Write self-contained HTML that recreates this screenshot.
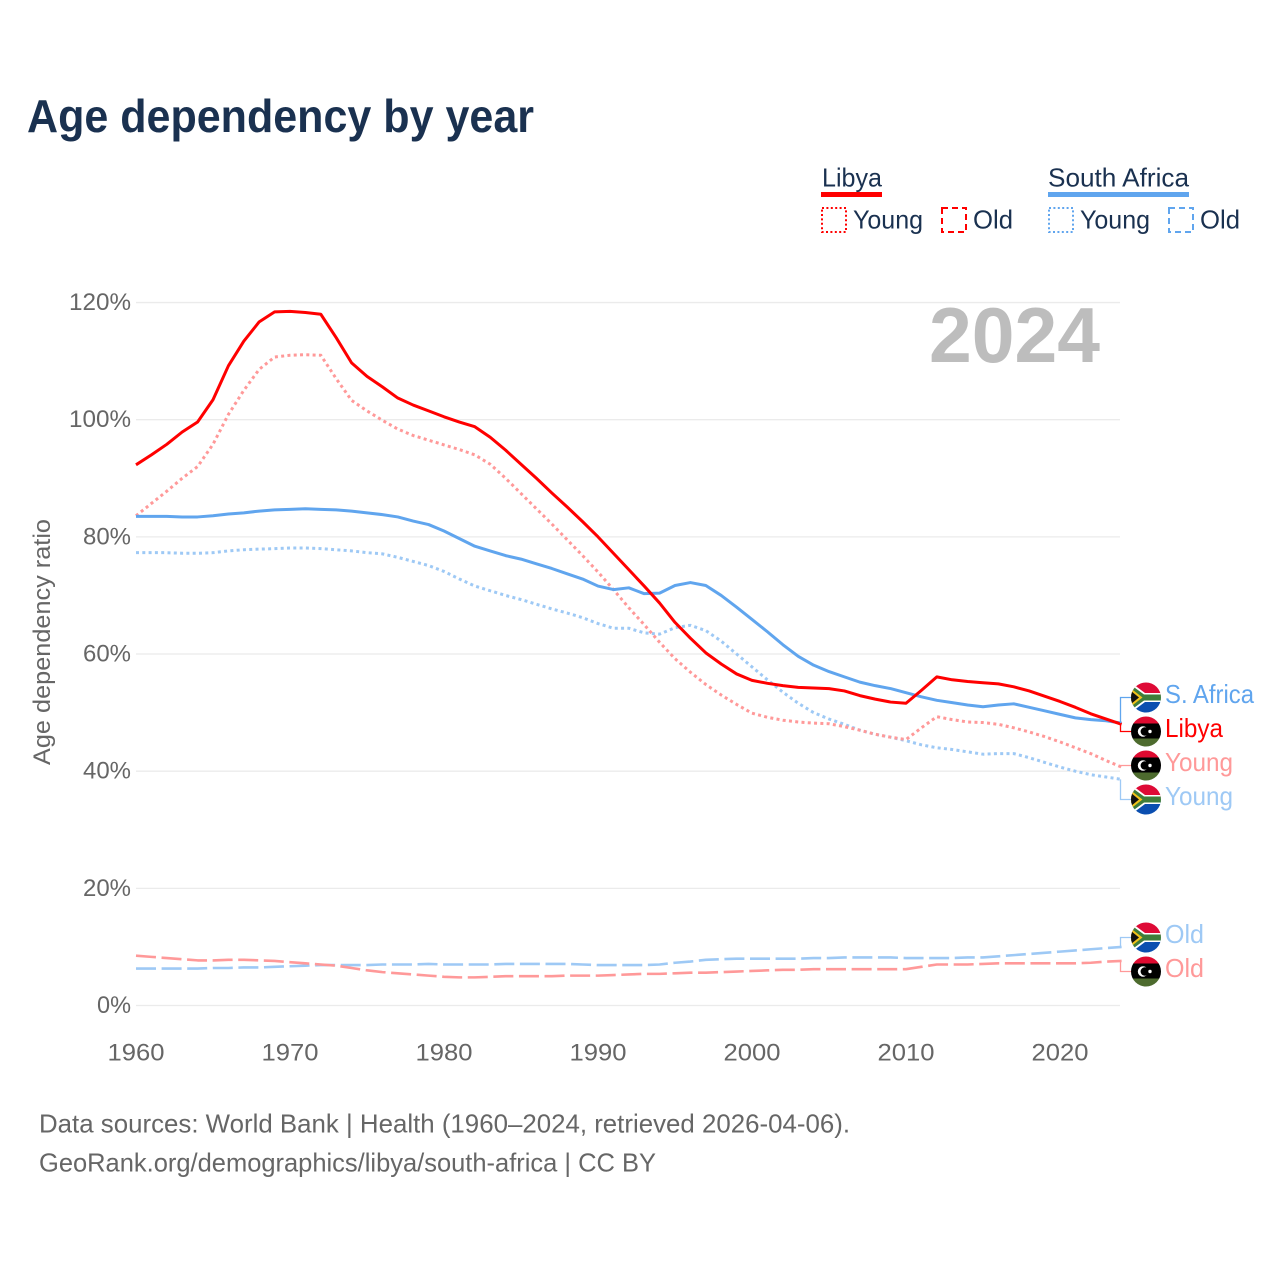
<!DOCTYPE html>
<html lang="en">
<head>
<meta charset="utf-8">
<title>Age dependency by year</title>
<style>
html,body{margin:0;padding:0;background:#fff;}
svg{display:block;font-family:"Liberation Sans",Arial,sans-serif;}
</style>
</head>
<body>
<svg id="chart" xmlns="http://www.w3.org/2000/svg" width="1280" height="1280" viewBox="0 0 1280 1280">
  <defs>
    <clipPath id="flag-clip"><circle cx="15" cy="15" r="15"/></clipPath>
    <g id="flag-sa" clip-path="url(#flag-clip)">
      <rect x="0" y="0" width="30" height="15" fill="#de0a36"/>
      <rect x="0" y="15" width="30" height="15" fill="#0a4eb0"/>
      <path d="M0 0 L14 10.5 H30 V19.5 H14 L0 30 Z" fill="#fff"/>
      <path d="M0 2.5 L13 12 H30 V18 H13 L0 27.5 Z" fill="#3f7d3a"/>
      <path d="M0 6 L11.5 15 L0 24 Z" fill="#f2c21b"/>
      <path d="M0 8.5 L8 15 L0 21.5 Z" fill="#111"/>
    </g>
    <g id="flag-ly" clip-path="url(#flag-clip)">
      <rect x="0" y="0" width="30" height="8" fill="#de0a30"/>
      <rect x="0" y="7" width="30" height="15.5" fill="#000"/>
      <rect x="0" y="22" width="30" height="8" fill="#4d6b2e"/>
      <circle cx="12" cy="15" r="5.2" fill="#fff"/>
      <circle cx="13.8" cy="15" r="4.2" fill="#000"/>
      <circle cx="19" cy="15" r="1.7" fill="#fff"/>
    </g>
  </defs>

  <text x="27" y="132" font-size="46" font-weight="700" fill="#1a3150" textLength="507" lengthAdjust="spacingAndGlyphs">Age dependency by year</text>

  <g font-size="26" fill="#1a3150">
    <text x="822" y="186.5" textLength="60" lengthAdjust="spacingAndGlyphs">Libya</text>
    <rect x="821" y="192" width="61" height="5" fill="#ff0000"/>
    <rect x="822" y="208" width="24" height="24" fill="none" stroke="#ff0000" stroke-width="2" stroke-dasharray="2 2.4"/>
    <text x="853" y="228.5" textLength="70" lengthAdjust="spacingAndGlyphs">Young</text>
    <rect x="942" y="208" width="24" height="24" fill="none" stroke="#ff0000" stroke-width="2" stroke-dasharray="6 4"/>
    <text x="973" y="228.5" textLength="40" lengthAdjust="spacingAndGlyphs">Old</text>
    <text x="1048" y="186.5" textLength="141" lengthAdjust="spacingAndGlyphs">South Africa</text>
    <rect x="1048" y="192" width="141" height="5" fill="#60a5ee"/>
    <rect x="1049" y="208" width="24" height="24" fill="none" stroke="#60a5ee" stroke-width="2" stroke-dasharray="2 2.4"/>
    <text x="1080" y="228.5" textLength="70" lengthAdjust="spacingAndGlyphs">Young</text>
    <rect x="1169" y="208" width="24" height="24" fill="none" stroke="#60a5ee" stroke-width="2" stroke-dasharray="6 4"/>
    <text x="1200" y="228.5" textLength="40" lengthAdjust="spacingAndGlyphs">Old</text>
  </g>

  <g id="grid"></g>
  <g id="y-ticks"></g>
  <g id="x-ticks"></g>

  <text transform="translate(50,642) rotate(-90)" text-anchor="middle" font-size="24" fill="#666" textLength="246" lengthAdjust="spacingAndGlyphs">Age dependency ratio</text>

  <text x="1100" y="362" text-anchor="end" font-size="78" font-weight="700" fill="#bdbdbd" textLength="171" lengthAdjust="spacingAndGlyphs">2024</text>

  <g id="series"></g>
  <g id="end-labels"></g>

  <text x="39" y="1132.5" font-size="26" fill="#666" textLength="811" lengthAdjust="spacingAndGlyphs">Data sources: World Bank | Health (1960–2024, retrieved 2026-04-06).</text>
  <text x="39" y="1171.5" font-size="26" fill="#666" textLength="617" lengthAdjust="spacingAndGlyphs">GeoRank.org/demographics/libya/south-africa | CC BY</text>
</svg>

<script>
const years = [1960,1961,1962,1963,1964,1965,1966,1967,1968,1969,1970,1971,1972,1973,1974,1975,1976,1977,1978,1979,1980,1981,1982,1983,1984,1985,1986,1987,1988,1989,1990,1991,1992,1993,1994,1995,1996,1997,1998,1999,2000,2001,2002,2003,2004,2005,2006,2007,2008,2009,2010,2011,2012,2013,2014,2015,2016,2017,2018,2019,2020,2021,2022,2023,2024];
const libyaTotal = [92.3,94,95.8,97.9,99.6,103.4,109.2,113.4,116.7,118.4,118.5,118.3,118,114,109.7,107.4,105.6,103.7,102.5,101.5,100.5,99.6,98.8,97,94.8,92.4,90,87.5,85.1,82.6,80,77.2,74.4,71.6,68.7,65.4,62.7,60.2,58.3,56.6,55.5,55,54.6,54.3,54.2,54.1,53.7,52.9,52.3,51.8,51.6,53.8,56.1,55.6,55.3,55.1,54.9,54.4,53.7,52.8,51.9,50.9,49.8,48.9,48];
const libyaYoung = [83.6,85.7,87.8,90,92,95.8,100.9,105,108.6,110.7,111,111.1,111,107,103.3,101.5,99.9,98.4,97.3,96.5,95.7,94.9,94,92.4,90,87.4,84.8,82.2,79.5,76.8,74,71,67.9,65,62,59.2,56.9,54.8,53,51.4,49.9,49.2,48.7,48.4,48.2,48.1,47.6,47,46.3,45.8,45.4,47.4,49.3,48.8,48.4,48.3,48,47.4,46.7,45.9,45,44,43,41.8,40.7];
const libyaOld = [8.5,8.3,8.1,7.9,7.7,7.7,7.8,7.8,7.7,7.6,7.4,7.2,7,6.8,6.4,6,5.7,5.5,5.3,5.1,4.9,4.8,4.8,4.9,5,5,5,5,5.1,5.1,5.1,5.2,5.3,5.4,5.4,5.5,5.6,5.6,5.7,5.8,5.9,6,6.1,6.1,6.2,6.2,6.2,6.2,6.2,6.2,6.2,6.6,7,7,7,7.1,7.2,7.2,7.2,7.2,7.2,7.2,7.3,7.5,7.6];
const southAfricaTotal = [83.5,83.5,83.5,83.4,83.4,83.6,83.9,84.1,84.4,84.6,84.7,84.8,84.7,84.6,84.4,84.1,83.8,83.4,82.7,82.1,81,79.7,78.4,77.6,76.8,76.2,75.4,74.6,73.7,72.8,71.6,71,71.3,70.3,70.4,71.7,72.2,71.7,70,68,65.9,63.8,61.6,59.6,58.1,57,56.1,55.2,54.6,54.1,53.4,52.7,52.1,51.7,51.3,51,51.3,51.5,50.9,50.3,49.7,49.1,48.8,48.6,48.2];
const southAfricaYoung = [77.3,77.3,77.3,77.2,77.2,77.3,77.6,77.8,77.9,78,78.1,78.1,78,77.8,77.6,77.3,77.1,76.5,75.8,75.1,74.1,72.8,71.6,70.8,70,69.3,68.5,67.7,67,66.2,65.2,64.4,64.4,63.6,63.4,64.5,64.9,64,62.2,60,57.8,55.6,53.5,51.6,50,48.9,48,47,46.3,45.8,45.2,44.5,44,43.7,43.3,42.9,43,43,42.3,41.5,40.7,40,39.4,39,38.6];
const southAfricaOld = [6.3,6.3,6.3,6.3,6.3,6.4,6.4,6.5,6.5,6.6,6.7,6.8,6.9,6.9,6.9,6.9,7,7,7,7.1,7,7,7,7,7.1,7.1,7.1,7.1,7.1,7,6.9,6.9,6.9,6.9,7,7.3,7.5,7.8,7.9,8,8,8,8,8,8.1,8.1,8.2,8.2,8.2,8.2,8.1,8.1,8.1,8.1,8.2,8.2,8.4,8.6,8.8,9,9.2,9.4,9.6,9.8,10];
const yTickValues = [0,20,40,60,80,100,120];
const xTickValues = [1960,1970,1980,1990,2000,2010,2020];
const yTickLabels = ['0%','20%','40%','60%','80%','100%','120%'];

const NS = 'http://www.w3.org/2000/svg';
function xScale(year) { return 136 + (year - 1960) * 15.4; }
function yScale(value) { return 1005.5 - value * 5.858; }
function make(tag, parent) {
  const el = document.createElementNS(NS, tag);
  parent.appendChild(el);
  return el;
}

const grid = document.getElementById('grid');
const yTicksGroup = document.getElementById('y-ticks');
const xTicksGroup = document.getElementById('x-ticks');

yTickValues.forEach(function (v, i) {
  const line = make('line', grid);
  
  
  line.setAttribute('x1', 136);
  line.setAttribute('x2', 1120);
  line.setAttribute('y1', yScale(v));
  line.setAttribute('y2', yScale(v));
  line.setAttribute('stroke', '#ebebeb');
  line.setAttribute('stroke-width', '1.3');
  const label = make('text', yTicksGroup);
  
  
  label.textContent = yTickLabels[i];
  label.setAttribute('x', 131);
  label.setAttribute('y', yScale(v) + 7.5);
  label.setAttribute('text-anchor', 'end');
  label.setAttribute('font-size', '24.5');
  label.setAttribute('fill', '#666');
  label.setAttribute('textLength', yTickLabels[i].length * 14 + 6);
  label.setAttribute('lengthAdjust', 'spacingAndGlyphs');
});

xTickValues.forEach(function (year) {
  const label = make('text', xTicksGroup);
  
  
  label.textContent = String(year);
  label.setAttribute('x', xScale(year));
  label.setAttribute('y', 1060.5);
  label.setAttribute('text-anchor', 'middle');
  label.setAttribute('font-size', '24.5');
  label.setAttribute('fill', '#666');
  label.setAttribute('textLength', 57);
  label.setAttribute('lengthAdjust', 'spacingAndGlyphs');
});

function pathFrom(values) {
  return values.map(function (v, i) {
    return (i ? 'L' : 'M') + xScale(years[i]).toFixed(2) + ' ' + yScale(v).toFixed(2);
  }).join(' ');
}

const seriesGroup = document.getElementById('series');
function drawSeries(values, name, color, width, dash) {
  const p = make('path', seriesGroup);
  
  
  p.setAttribute('d', pathFrom(values));
  p.setAttribute('fill', 'none');
  p.setAttribute('stroke', color);
  p.setAttribute('stroke-width', width);
  p.setAttribute('stroke-linejoin', 'round');
  if (dash) p.setAttribute('stroke-dasharray', dash);
}
drawSeries(southAfricaOld, 'line-south-africa-old', '#9ec9f5', 2.6, '20 5.6');
drawSeries(libyaOld, 'line-libya-old', '#ff9999', 2.6, '20 5.6');
drawSeries(southAfricaYoung, 'line-south-africa-young', '#9ec9f5', 3, '3 3.3');
drawSeries(libyaYoung, 'line-libya-young', '#ff9999', 3, '3 3.3');
drawSeries(southAfricaTotal, 'line-south-africa-total', '#60a5ee', 3, '');
drawSeries(libyaTotal, 'line-libya-total', '#ff0000', 3, '');

const endGroup = document.getElementById('end-labels');
function drawEnd(values, labelY, flag, text, textWidth, color, name) {
  const y0 = yScale(values[values.length - 1]);
  const conn = make('path', endGroup);
  
  
  conn.setAttribute('d', 'M1120.5 ' + y0.toFixed(1) + ' V' + labelY + ' H1131');
  conn.setAttribute('fill', 'none');
  conn.setAttribute('stroke', color);
  conn.setAttribute('stroke-width', '1.3');
  const f = make('use', endGroup);
  
  
  f.setAttribute('href', '#' + flag);
  f.setAttribute('x', 1131);
  f.setAttribute('y', labelY - 15);
  const t = make('text', endGroup);
  
  
  t.textContent = text;
  t.setAttribute('x', 1165);
  t.setAttribute('y', labelY + 5.5);
  t.setAttribute('font-size', '26');
  t.setAttribute('fill', color);
  t.setAttribute('textLength', textWidth);
  t.setAttribute('lengthAdjust', 'spacingAndGlyphs');
}
drawEnd(southAfricaTotal, 697.5, 'flag-sa', 'S. Africa', 89, '#60a5ee', 'end-south-africa-total');
drawEnd(libyaTotal, 731.5, 'flag-ly', 'Libya', 58, '#ff0000', 'end-libya-total');
drawEnd(libyaYoung, 765.5, 'flag-ly', 'Young', 68, '#ff9999', 'end-libya-young');
drawEnd(southAfricaYoung, 799.5, 'flag-sa', 'Young', 68, '#9ec9f5', 'end-south-africa-young');
drawEnd(southAfricaOld, 937.5, 'flag-sa', 'Old', 39, '#9ec9f5', 'end-south-africa-old');
drawEnd(libyaOld, 971.5, 'flag-ly', 'Old', 39, '#ff9999', 'end-libya-old');
</script>
</body>
</html>
